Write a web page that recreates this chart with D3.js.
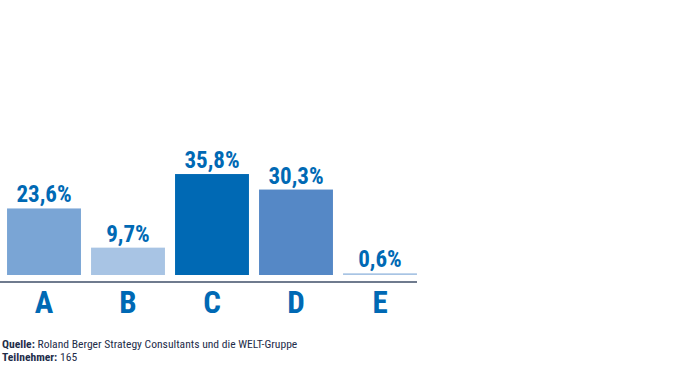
<!DOCTYPE html>
<html>
<head>
<meta charset="utf-8">
<script src="https://cdn.jsdelivr.net/npm/d3@7"></script>
<style>
  body { margin: 0; background: #fff; }
  svg text { font-family: "Liberation Sans Narrow", "Arial Narrow", "Roboto Condensed", sans-serif; }
</style>
</head>
<body>
<div id="chart"></div>
<script>
// Data
const categories = ["A", "B", "C", "D", "E"];
const values = [23.6, 9.7, 35.8, 30.3, 0.6];
const barColors = ["#7aa5d5", "#a8c4e4", "#0069b4", "#5588c6", "#a8c4e4"];
const footerLines = [
  { bold: "Quelle:", rest: " Roland Berger Strategy Consultants und die WELT-Gruppe" },
  { bold: "Teilnehmer:", rest: " 165" }
];

const width = 700, height = 370;
const baseY = 275;

const svg = d3.select("#chart")
  .append("svg")
  .attr("width", width)
  .attr("height", height);

const x = d3.scaleBand()
  .domain(categories)
  .range([2, 422])
  .paddingInner(0.12)
  .paddingOuter(0.06);

const y = d3.scaleLinear()
  .domain([0, 40])
  .range([baseY, baseY - 112.8]);

// Bars
svg.selectAll("rect.bar")
  .data(values)
  .enter()
  .append("rect")
  .attr("class", "bar")
  .attr("x", (d, i) => x(categories[i]))
  .attr("y", d => y(d))
  .attr("width", x.bandwidth())
  .attr("height", d => baseY - y(d))
  .attr("fill", (d, i) => barColors[i]);

// Value labels
svg.selectAll("text.val")
  .data(values)
  .enter()
  .append("text")
  .attr("class", "val")
  .attr("x", (d, i) => x(categories[i]) + x.bandwidth() / 2)
  .attr("y", d => y(d) - 6)
  .attr("text-anchor", "middle")
  .attr("font-size", "23px")
  .attr("font-weight", "bold")
  .attr("fill", "#0069b4")
  .text(d => d.toFixed(1).replace(".", ",") + "%");

// Baseline
svg.append("line")
  .attr("x1", 0)
  .attr("x2", x.range()[1] - 5)
  .attr("y1", 282)
  .attr("y2", 282)
  .attr("stroke", "#6f7b8e")
  .attr("stroke-width", 2);

// Category axis (letters only)
svg.append("g")
  .attr("transform", "translate(0,290)")
  .call(d3.axisBottom(x).tickSize(0).tickPadding(0))
  .call(g => g.select(".domain").remove())
  .call(g => g.selectAll("text")
    .attr("dy", null)
    .attr("y", 23)
    .attr("font-size", "31px")
    .attr("font-weight", "bold")
    .attr("font-family", "'Liberation Sans Narrow', 'Arial Narrow', sans-serif")
    .attr("fill", "#0069b4"));

// Footer
footerLines.forEach((line, i) => {
  const t = svg.append("text")
    .attr("x", 2)
    .attr("y", 348 + i * 13)
    .attr("font-size", "11.6px")
    .attr("fill", "#1e2d4a");
  t.append("tspan").attr("font-weight", "bold").text(line.bold);
  t.append("tspan").text(line.rest);
});
</script>
</body>
</html>
